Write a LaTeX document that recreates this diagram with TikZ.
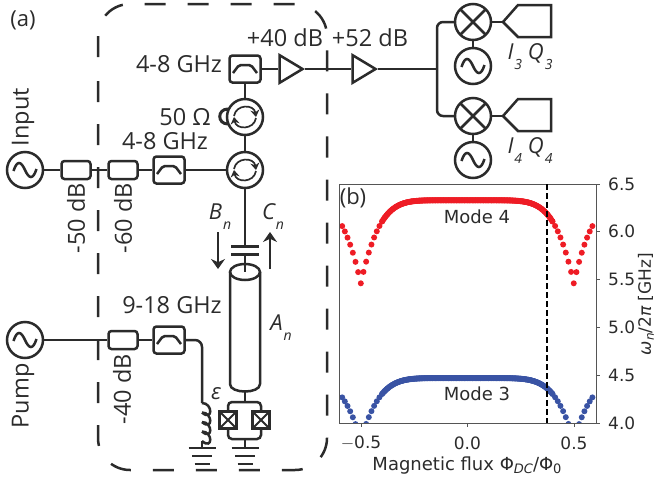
\documentclass[tikz,border=0pt]{standalone}
\usepackage{fontspec}
\setmainfont{Open Sans}
\newfontfamily\plotfont{DejaVu Sans}
\usetikzlibrary{positioning,shapes,arrows.meta}
\definecolor{ink}{HTML}{2B2B2B}
\definecolor{modered}{HTML}{EE1C25}
\definecolor{modeblue}{HTML}{3953A4}
\definecolor{spine}{HTML}{555555}
\newcommand{\subl}[2]{#1\raisebox{-10pt}{\kern1pt\fontsize{14}{14}\selectfont #2}}

\tikzset{
    wire/.style={line width=2.5pt, ink},
    lab/.style={font=\fontsize{23.5}{26}\selectfont, text=ink, inner sep=0pt},
    panel/.style={font=\fontsize{22}{24}\selectfont, text=ink, inner sep=0pt},
    slab/.style={font=\fontsize{22}{24}\selectfont\itshape, text=ink, inner sep=0pt},
    plab/.style={font=\plotfont\fontsize{18}{20}\selectfont, text=ink, inner sep=0pt},
    tlab/.style={font=\plotfont\fontsize{17}{20}\selectfont, text=ink, inner sep=0pt},
    atten/.style={wire, draw, fill=white, rounded corners=3pt, minimum width=29pt, minimum height=18pt, inner sep=0pt},
    filt/.style={wire, draw, fill=white, rounded corners=3pt, minimum width=31pt, minimum height=27pt, inner sep=0pt,
        path picture={\draw[wire, rounded corners=2pt, shift={(path picture bounding box.center)}] (-12,4) -- (-6,-4) -- (6,-4) -- (12,4);}},
    src/.style={wire, draw, fill=white, circle, minimum size=36pt, inner sep=0pt,
        path picture={\draw[wire, shift={(path picture bounding box.center)}] (-11.5,1) .. controls (-8,-10) and (-4,-9) .. (0,0) .. controls (4,9) and (8,10) .. (11.5,-1);}},
    circu/.style={wire, draw, fill=white, circle, minimum size=36pt, inner sep=0pt,
        path picture={\draw[line width=1.7pt, ink, -{Stealth[length=7pt,width=9pt]}, shift={(path picture bounding box.center)}] (-11,-1) .. controls (-9,-13) and (9,-13) .. (11,0);
            \draw[line width=1.7pt, ink, -{Stealth[length=7pt,width=9pt]}, shift={(path picture bounding box.center)}] (11,1) .. controls (9,13) and (-9,13) .. (-11,0);}},
    mixer/.style={wire, draw, fill=white, circle, minimum size=36pt, inner sep=0pt,
        path picture={\draw[wire] (path picture bounding box.south west) -- (path picture bounding box.north east);
            \draw[wire] (path picture bounding box.north west) -- (path picture bounding box.south east);}},
    amp/.style={wire, draw, fill=white, shape=isosceles triangle, isosceles triangle apex angle=62, anchor=apex, minimum height=23pt, inner sep=0pt},
    jun/.style={wire, draw, fill=white, minimum size=17pt, inner sep=0pt,
        path picture={\draw[line width=1.8pt, ink] (path picture bounding box.south west) -- (path picture bounding box.north east);
            \draw[line width=1.8pt, ink] (path picture bounding box.north west) -- (path picture bounding box.south east);}},
    arr/.style={line width=1.4pt, ink, -{Stealth[length=10pt,width=14pt]}}
}

\begin{document}
\begin{tikzpicture}[x=1pt, y=-1pt]
    \useasboundingbox (0,0) rectangle (657,483);

    % Fridge outline
    \draw[wire, rounded corners=32pt, dash pattern=on 21pt off 22pt] (98,57) -- (98,4) -- (327,4) -- (327,470) -- (98,470) -- (98,78);
    \node[panel] (panelA) at (23,20) {(a)};

    % Input line
    \node[src] (srcIn) at (25,170) {};
    \node[atten] (attA) at (76,170) {};
    \node[atten] (attB) at (123,170) {};
    \node[filt] (fltIn) at (169,170) {};
    \node[circu] (circA) at (245,170) {};
    \node[circu] (circB) at (245,117) {};
    \node[filt] (fltOut) at (245,69) {};
    \draw[wire] (srcIn) -- (attA);
    \draw[wire] (attA) -- (attB);
    \draw[wire] (attB) -- (fltIn);
    \draw[wire] (fltIn) -- (circA);
    \draw[wire] (circA) -- (circB);
    \draw[wire] (circB) -- (fltOut);
    \node[lab, rotate=90] (labIn) at (23,117) {Input};
    \node[lab, rotate=90] (labA) at (76,218) {-50 dB};
    \node[lab, rotate=90] (labB) at (123,218) {-60 dB};
    \node[lab] (labFltIn) at (165,141) {4-8 GHz};
    \node[lab] (labFltOut) at (179,64) {4-8 GHz};
    \node[lab] (labLoad) at (185,117) {50 Ω};
    \coordinate (loadA) at (228,109);
    \coordinate (loadB) at (228,124);
    \draw[line width=3pt, ink] (loadA) .. controls (217,109) and (217,124) .. (loadB);

    % Output chain
    \node[amp] (ampA) at (305,69) {};
    \node[amp] (ampB) at (378,69) {};
    \draw[wire] (fltOut) -- (ampA);
    \draw[wire] (ampA.apex) -- (ampB);
    \node[lab] (labAmpA) at (285,38) {+40 dB};
    \node[lab] (labAmpB) at (370,38) {+52 dB};
    \coordinate (split) at (437,69);
    \node[mixer] (mixA) at (473,22) {};
    \node[mixer] (mixB) at (473,116) {};
    \node[src] (loA) at (473,66) {};
    \node[src] (loB) at (473,160) {};
    \draw[wire] (ampB.apex) -- (split);
    \draw[wire, rounded corners=6pt] (mixA) -| (split) |- (mixB);
    \draw[wire] (mixA) -- (loA);
    \draw[wire] (mixB) -- (loB);
    \coordinate (iqA) at (503,22);
    \coordinate (iqB) at (503,116);
    \draw[wire] (mixA) -- (iqA);
    \draw[wire] (mixB) -- (iqB);
    \foreach \q in {iqA, iqB} {
        \draw[wire, line join=miter] (\q) -- ([shift={(15pt,17pt)}]\q) -- ([shift={(48pt,17pt)}]\q) -- ([shift={(48pt,-15pt)}]\q) -- ([shift={(15pt,-15pt)}]\q) -- cycle;
    }
    \node[slab] (labIa) at (530,57) {\subl{I}{3} \subl{Q}{3}};
    \node[slab] (labIb) at (530,151) {\subl{I}{4} \subl{Q}{4}};

    % Resonator and SQUID
    \coordinate (capTop) at (245,246);
    \coordinate (capBot) at (245,254);
    \coordinate (cylIn) at (245,272);
    \coordinate (cylOut) at (245,384);
    \draw[wire] (circA) -- (capTop);
    \draw[line width=3pt, ink] ([xshift=-14pt]capTop) -- ([xshift=14pt]capTop);
    \draw[line width=3pt, ink] ([xshift=-14pt]capBot) -- ([xshift=14pt]capBot);
    \draw[wire] (cylIn) ellipse (15 and 8);
    \draw[wire] (cylIn) ++(-15,0) -- (230,384) .. controls (230,394) and (260,394) .. (260,384) -- (260,272);
    \draw[wire] (capBot) -- (cylIn);
    \coordinate (squidTop) at (245,402);
    \coordinate (squidBot) at (245,439);
    \coordinate (gndJ) at (245,448);
    \node[jun] (junL) at (228,420) {};
    \node[jun] (junR) at (261,420) {};
    \draw[wire] (245,391.5) -- (squidTop);
    \draw[wire, rounded corners=4pt] (junL.north) |- (squidTop) -| (junR.north);
    \draw[wire, rounded corners=4pt] (junL.south) |- (squidBot) -| (junR.south);
    \draw[wire] (squidBot) -- (gndJ);
    \node[slab] (labBn) at (220,217) {\subl{B}{n}};
    \node[slab] (labCn) at (273,217) {\subl{C}{n}};
    \node[slab] (labAn) at (281,328) {\subl{A}{n}};
    \coordinate (arrBa) at (218,232);
    \coordinate (arrBb) at (218,269);
    \coordinate (arrCa) at (270,269);
    \coordinate (arrCb) at (270,232);
    \draw[arr] (arrBa) -- (arrBb);
    \draw[arr] (arrCa) -- (arrCb);

    % Pump line
    \node[src] (srcPump) at (25,340) {};
    \node[atten] (attC) at (123,340) {};
    \node[filt] (fltPump) at (169,340) {};
    \coordinate (coilTop) at (202,403);
    \coordinate (coilBot) at (202,441);
    \coordinate (gndL) at (202,448);
    \draw[wire] (srcPump) -- (attC);
    \draw[wire] (attC) -- (fltPump);
    \draw[wire, rounded corners=7pt] (fltPump) -| (coilTop);
    \foreach \k in {0,1,2,3} {
        \draw[wire] ([yshift=-9.5*\k pt]coilTop) .. controls +(11pt,0pt) and +(11pt,-9.5pt) .. ([yshift=-9.5*\k pt-9.5pt]coilTop);
    }
    \draw[wire] (coilBot) -- (gndL);
    \node[lab, rotate=90] (labPump) at (23,396) {Pump};
    \node[lab, rotate=90] (labC) at (122,389) {-40 dB};
    \node[lab] (labFltPump) at (172,305) {9-18 GHz};
    \node[slab] (labEps) at (216,394) {ε};

    % Grounds
    \foreach \g in {gndJ, gndL} {
        \draw[line width=2.4pt, ink] ([xshift=-13.5pt]\g) -- ([xshift=13.5pt]\g);
        \draw[line width=2.4pt, ink] ([shift={(-10pt,-8pt)}]\g) -- ([shift={(10pt,-8pt)}]\g);
        \draw[line width=2.4pt, ink] ([shift={(-7.5pt,-16pt)}]\g) -- ([shift={(7.5pt,-16pt)}]\g);
    }

    % Flux curves
    \begin{scope}
        \clip (339,184) rectangle (596,423);
        \foreach \i in {-47,...,47} {
            \pgfmathsetmacro{\fx}{\i*0.0125}
            \pgfmathsetmacro{\g}{1-pow(1.0001-abs(cos(180*\fx)),3.7)}
            \pgfmathsetmacro{\px}{467.3+213*\fx}
            \fill[modered] (\px,{423-(5.46+0.87*\g-4)*95.6}) circle (3);
            \fill[modeblue] (\px,{423-(3.82+0.65*\g-4)*95.6}) circle (3);
        }
        \foreach \i in {-100,...,100} {
            \pgfmathsetmacro{\fx}{\i*0.004}
            \pgfmathsetmacro{\g}{1-pow(1.0001-abs(cos(180*\fx)),3.7)}
            \pgfmathsetmacro{\px}{467.3+213*\fx}
            \fill[modered] (\px,{423-(5.46+0.87*\g-4)*95.6}) circle (3);
            \fill[modeblue] (\px,{423-(3.82+0.65*\g-4)*95.6}) circle (3);
        }
    \end{scope}

    % Axes
    \draw[spine, line width=1pt] (339,184) rectangle (596,423);
    \draw[line width=1.6pt, black, dash pattern=on 6pt off 3pt] (547,184) -- (547,423);
    \foreach \v/\t [count=\k] in {361/$-$0.5, 467.3/0.0, 574/0.5} {
        \draw[spine, line width=1pt] (\v,423) -- (\v,427);
        \node[tlab] (xtick\k) at (\v,443) {\t};
    }
    \foreach \v/\t [count=\k] in {423/4.0, 375.2/4.5, 327.4/5.0, 279.6/5.5, 231.8/6.0, 184/6.5} {
        \draw[spine, line width=1pt] (596,\v) -- (600,\v);
        \node[tlab, anchor=west] (ytick\k) at (608,\v) {\t};
    }
    \node[plab] (labFlux) at (467,466) {Magnetic flux Φ\raisebox{-3pt}{\fontsize{13}{13}\selectfont\itshape DC}/Φ\raisebox{-3pt}{\fontsize{13}{13}\selectfont 0}};
    \node[tlab, rotate=90] (labFreq) at (646,304) {{\itshape ω}\raisebox{-3pt}{\fontsize{12}{12}\selectfont\itshape n}/2{\itshape π} [GHz]};
    \node[plab] (labM4) at (477,217) {Mode 4};
    \node[plab] (labM3) at (477,394) {Mode 3};
    \node[panel] (panelB) at (353,198) {(b)};
\end{tikzpicture}
\end{document}
